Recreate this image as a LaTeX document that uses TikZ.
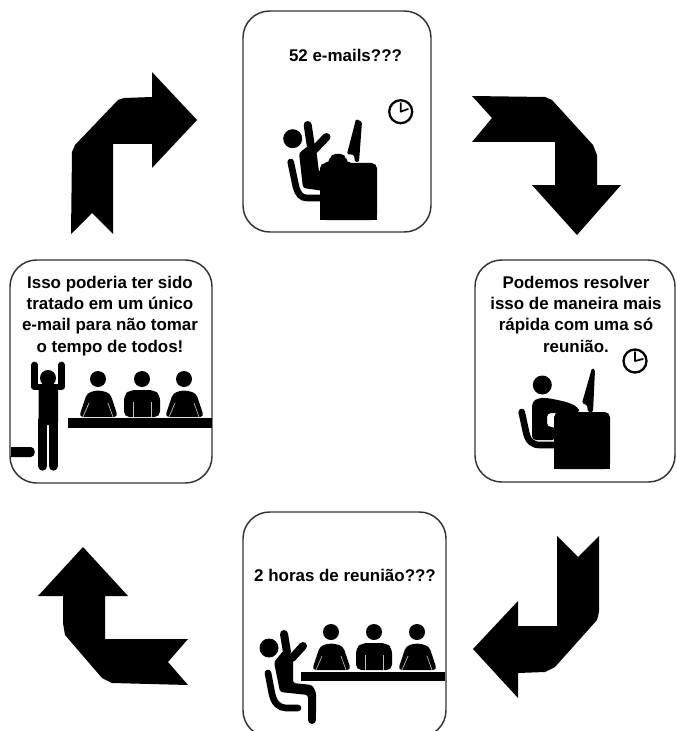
\documentclass[tikz,border=0pt]{standalone}
\usepackage{fontspec}
\setmainfont{Liberation Sans}
\definecolor{boxline}{HTML}{333333}
\tikzset{
 panel/.style={draw=boxline,line width=1.1pt,fill=white,rounded corners=20pt},
 caption/.style={font=\fontsize{12.7}{16}\selectfont\bfseries,align=center,inner sep=0pt,text=black,anchor=base},
 bigarrow/.style={fill=black,draw=none},
 limb/.style={draw=black,line cap=round,line join=round},
 seam/.style={draw=white!75!black,line width=.5pt},
 clockface/.style={draw=black,line width=1.7pt,fill=white},
 clockhand/.style={draw=black,line width=1.3pt,line cap=round,line join=round},
 sloped sitter/.pic={
  \fill (0,-11) circle[radius=8];
  \fill[rounded corners=3pt] (-19,27)--(-11,3)--(0,0)--(12,3)--(20,27)--cycle;
  \draw[seam] (-15,27)--(-9,13) (15,27)--(10,13);
 },
 square sitter/.pic={
  \fill (0,-11) circle[radius=8];
  \fill[rounded corners=4pt] (-18,27)--(-18,5)--(-12,0)--(12,0)--(18,5)--(18,27)--cycle;
  \draw[seam] (-9,27)--(-9,12) (9,27)--(9,12);
 },
}
\begin{document}
\begin{tikzpicture}[x=.75pt,y=-.75pt]
\useasboundingbox (0,0) rectangle (676,731);
\clip (0,0) rectangle (676,731);
\fill[white] (0,0) rectangle (676,731);
% arrows
\path[bigarrow] (71,234)--(92,213)--(113,234)--(113,144)--(152,144)--(152,168)--(197,120)--(152,72)--(152,97)--(124,98)--(118,100)--(75,145)--(72,152)--cycle;
\path[bigarrow] (472,96)--(545,97)--(552,100)--(593,145)--(597,155)--(597,185)--(621,185)--(577,235)--(532,185)--(555,185)--(555,142)--(472,142)--(492,118)--cycle;
\path[bigarrow] (557,536)--(578,557)--(599,536)--(599,612)--(597,620)--(555,667)--(545,672)--(518,673)--(518,698)--(473,649)--(518,601)--(518,626)--(557,626)--cycle;
\path[bigarrow] (83,547)--(128,596)--(105,596)--(105,639)--(188,639)--(168,662)--(188,685)--(112,683)--(102,678)--(65,635)--(63,623)--(63,596)--(38,596)--cycle;
% panels
\draw[panel] (243,11) rectangle (431,232);
\draw[panel] (475,260) rectangle (675,482);
\draw[panel] (10,260) rectangle (212,483);
\draw[panel] (243,512) rectangle (446,737);
% captions
\node[caption] (t1) at (345.5,62) {52 e-mails???};
\node[caption] (t2) at (576,352) {Podemos resolver\\isso de maneira mais\\rápida com uma só\\reunião.};
\node[caption] (t3) at (110,352) {Isso poderia ter sido\\tratado em um único\\e-mail para não tomar\\o tempo de todos!};
\node[caption] (t4) at (345,581) {2 horas de reunião???};
% figure 1
\fill (292.7,138.7) circle[radius=9.5];
\draw[limb,line width=6pt] (307.7,125)--(311,147);
\draw[limb,line width=6pt] (326.5,137)--(314,150);
\fill[rounded corners=2pt] (299,153)--(308,146)--(316,148)--(319,172)--(324,172)--(324,191)--(303,188)--cycle;
\draw[limb,line width=5pt] (290.7,162)--(296,187)..controls (298,194) and (301,198) ..(307,198)--(322,198);
\fill[rounded corners=4pt] (320,220)--(320,163)--(330,163)--(330,154)--(346,154)--(346,163)--(377,163)--(377,220)--cycle;
\fill (320,215) rectangle (377,220);
\fill[rounded corners=1pt] (356,119)--(362,122)--(359,162)--(355,162)--(354,155)--(347,154)--cycle;
\draw[clockface] (400.7,111.7) circle[radius=11.5];
\draw[clockhand] (400.7,103)--(400.7,111.7)--(408,109);
% figure 2
\fill (542.3,385) circle[radius=9.5];
\fill[rounded corners=3pt] (532,440)--(532,402)--(538,398)--(548,398)--(567,402)--(578,407)--(580,413)--(560,413)--(547,413)--(547,427)--(556,427)--(556,440)--cycle;
\draw[limb,line width=5pt] (521.7,412)--(526,432)..controls (528,441) and (532,445) ..(540,445)--(556,445);
\fill[rounded corners=4pt] (554,469)--(554,412)--(610,412)--(610,469)--cycle;
\fill (554,464) rectangle (610,469);
\fill[rounded corners=1pt] (592,368)--(595,370)--(593,412)--(588,412)--(587,405)--(582,403)--cycle;
\draw[clockface] (635,361) circle[radius=11.5];
\draw[clockhand] (635,352)--(635,361)--(643,359);
% figure 3
\fill (48,378) circle[radius=8];
\draw[limb,line width=5pt] (34.5,365)--(34.5,387)--(61.5,387)--(61.5,365);
\fill[rounded corners=2pt] (38.5,385) rectangle (58,425);
\draw[limb,line width=7pt] (42.8,420)--(42.8,466);
\draw[limb,line width=7pt] (53.2,420)--(53.2,466);
\fill (11,447)--(31,447)..controls (36,447) and (36,457) ..(31,457)--(11,457)--cycle;
\fill (68,418) rectangle (212,428);
\pic at (98,390) {sloped sitter};
\pic at (142,390) {square sitter};
\pic at (184,390) {sloped sitter};
% figure 4
\fill (269,648) circle[radius=9.5];
\draw[limb,line width=6pt] (284,634)--(287,652);
\draw[limb,line width=6pt] (303,646)--(292,658);
\fill[rounded corners=2pt] (274,662)--(284,650)--(293,655)--(293,683)--(312,685)--(316,692)--(316,716)--(308,716)--(308,695)--(280,692)--cycle;
\draw[limb,line width=6pt] (312,700)--(312,720);
\draw[limb,line width=5pt] (268,673)--(272,694)..controls (274,703) and (279,708) ..(286,708)--(298,708);
\fill (301,672) rectangle (445,681);
\pic at (331,643) {sloped sitter};
\pic at (374,643) {square sitter};
\pic at (417,643) {sloped sitter};
\end{tikzpicture}
\end{document}
